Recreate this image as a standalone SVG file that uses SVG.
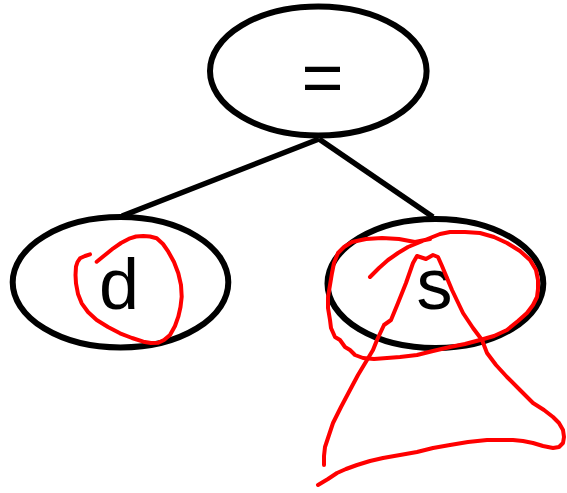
<svg xmlns="http://www.w3.org/2000/svg" width="567" height="493" viewBox="0 0 567 493">
<style>
.node ellipse{fill:#fff;stroke:#000;stroke-width:6}
.node text{font-family:"Liberation Sans",Arial,sans-serif;font-size:72px;fill:#000;text-anchor:middle}
.edge{stroke:#000;stroke-width:5.5;fill:none}
.ink{fill:none;stroke:#f00;stroke-width:4;stroke-linecap:round;stroke-linejoin:round}
</style>
<rect width="567" height="493" fill="#fff"/>
<g id="connectors">
<line class="edge" x1="319" y1="139" x2="122" y2="216"/>
<line class="edge" x1="319" y1="139" x2="433" y2="217"/>
</g>
<g id="node-eq" class="node">
<ellipse cx="318.3" cy="71" rx="108.3" ry="64.6"/>
<text x="322.5" y="102">=</text>
</g>
<g id="node-d" class="node">
<ellipse cx="120.5" cy="282.3" rx="107.8" ry="65.2"/>
<text x="119" y="309">d</text>
</g>
<g id="node-s" class="node">
<ellipse cx="435.4" cy="283.5" rx="107.9" ry="64.5"/>
<text x="434.5" y="309">s</text>
</g>
<g id="annotations">
<polyline class="ink" points="96.7,261.7 105,255 113.3,248.3 121,243 130,238.3 136,236.5 143.3,236 150,236.5 156.7,238.3 163,244 168.3,251.7 174,262 178.3,273.3 181,285 181.7,296.7 180.5,307 178.3,316.7 175,326 170,335 164,340 158.3,342.7 151,343 143.3,341.7 132,338 120,333.3 108,327 96.7,320 88,312 81.7,303.3 78,294 76,283.3 75.5,275 76,266.7 77.5,262 80,258.3 85,256 90,254.3"/>
<polyline class="ink" points="370,277 379,268 388,260 398,253 408,247 425,240 440,234 450,232 465,232 480,233 494,237 507,243 520,251 530,260 536,270 538,280 538,289 537,297 533,305 527,313 518,321 507,330 494,336 480,340 465,344 450,347 433,351 417,355 400,357 387,358 374,359 363,358 355,355 350,350 345,347 340,340 335,337 331,328 330,320 328,308 328,297 330,285 332,273 334,263 338,253 344,247 352,242 366,239 382,238 399,239 415,242 430,239"/>
<polyline class="ink" points="324,465 324,456 325,447 329,435 333,423 341,407 350,390 358,375 367,360 373,350 377,340 384,325 391,320 398,303 406,283 413,263 417,256 426,259 433,255 438,257 442,266 452,290 463,313 473,328 482,340 487,353 496,365 507,377 520,390 533,403 544,410 553,417 559,423 563,430 564,437 563,443 559,447 553,448 543,446 533,443 523,441 513,440 500,440 487,440 468,442 450,445 433,448 417,452 400,455 383,458 370,461 357,465 346,469 337,473 328,479 318,485"/>
</g>
</svg>
